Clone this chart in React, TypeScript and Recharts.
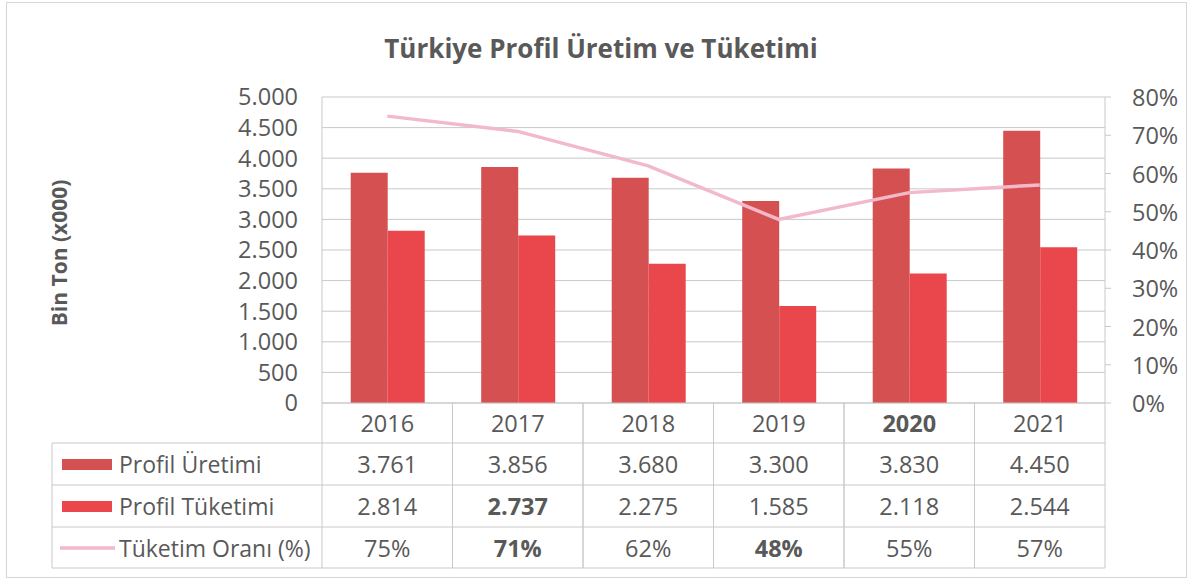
import React from 'react';
import { ComposedChart, Bar, Line, XAxis, YAxis, CartesianGrid } from 'recharts';

const years = ['2016', '2017', '2018', '2019', '2020', '2021'];
const uretim = [3761, 3856, 3680, 3300, 3830, 4450];
const tuketim = [2814, 2737, 2275, 1585, 2118, 2544];
const oran = [75, 71, 62, 48, 55, 57];
const leftTicks = [0, 500, 1000, 1500, 2000, 2500, 3000, 3500, 4000, 4500, 5000];
const rightTicks = [0, 10, 20, 30, 40, 50, 60, 70, 80];
const boldCells = ['2020', '2017-tuketim', '2017-oran', '2019-oran'];

const data = years.map((y, i) => ({ year: y, uretim: uretim[i], tuketim: tuketim[i], oran: oran[i] }));

const W = 1193;
const H = 581;
const PLOT_TOP = 97;
const PLOT_BOTTOM = 403;
const PLOT_LEFT = 322;
const PLOT_RIGHT = 1105;
const CELL_W = (PLOT_RIGHT - PLOT_LEFT) / years.length;
const ROW_LINES = [443, 485, 527, 568];
const ROW_TEXT = [423, 464, 506, 548];

const FONT = '"Open Sans", sans-serif';
const TEXT = '#595959';
const BORDER = '#c9c9c9';
const DARK = '#d55151';
const LIGHT = '#e9474b';
const PINK = '#f2b9cb';
const FS = 23.5;

const fmt = (n: number) =>
  n >= 1000 ? `${Math.floor(n / 1000)}.${String(n % 1000).padStart(3, '0')}` : String(n);

const TableTick = (props: any) => {
  const { x, payload } = props;
  const i = years.indexOf(payload.value);
  const yr = payload.value;
  const cells = [
    { text: yr, bold: boldCells.includes(yr) },
    { text: fmt(uretim[i]), bold: boldCells.includes(`${yr}-uretim`) },
    { text: fmt(tuketim[i]), bold: boldCells.includes(`${yr}-tuketim`) },
    { text: `${oran[i]}%`, bold: boldCells.includes(`${yr}-oran`) },
  ];
  const l = x - CELL_W / 2;
  const r = x + CELL_W / 2;
  return (
    <g>
      <line x1={r} x2={r} y1={PLOT_BOTTOM} y2={ROW_LINES[3]} stroke={BORDER} />
      <line x1={l} x2={l} y1={PLOT_BOTTOM} y2={ROW_LINES[3]} stroke={BORDER} />
      {ROW_LINES.map((ly) => (
        <line key={ly} x1={l} x2={r} y1={ly} y2={ly} stroke={BORDER} />
      ))}
      {cells.map((c, k) => (
        <text
          key={k}
          x={x}
          y={ROW_TEXT[k]}
          textAnchor="middle"
          dominantBaseline="central"
          fill={TEXT}
          fontSize={FS}
          fontWeight={c.bold ? 700 : 400}
          fontFamily={FONT}
        >
          {c.text}
        </text>
      ))}
    </g>
  );
};

const RightTick = (props: any) => {
  const { y, payload } = props;
  return (
    <text x={1132} y={y} dominantBaseline="central" fill={TEXT} fontSize={FS} fontFamily={FONT}>
      {`${payload.value}%`}
    </text>
  );
};

const legendRows = [
  { name: 'Profil Üretimi', color: DARK, kind: 'bar' },
  { name: 'Profil Tüketimi', color: LIGHT, kind: 'bar' },
  { name: 'Tüketim Oranı (%)', color: PINK, kind: 'line' },
];

const Overlay = () => (
  <svg width={W} height={H} style={{ position: 'absolute', left: 0, top: 0, pointerEvents: 'none' }}>
    <rect x={6.5} y={2.5} width={1180} height={575} fill="none" stroke="#d6d6d6" />
    <text x={601} y={48} textAnchor="middle" dominantBaseline="central" fill={TEXT} fontSize={26} fontWeight={700} fontFamily={FONT}>
      Türkiye Profil Üretim ve Tüketimi
    </text>
    <text
      x={59}
      y={253}
      textAnchor="middle"
      dominantBaseline="central"
      fill={TEXT}
      fontSize={21}
      fontWeight={700}
      fontFamily={FONT}
      transform="rotate(-90 59 253)"
    >
      Bin Ton (x000)
    </text>
    <line x1={52} x2={52} y1={ROW_LINES[0]} y2={ROW_LINES[3]} stroke={BORDER} />
    {ROW_LINES.map((ly) => (
      <line key={ly} x1={52} x2={PLOT_LEFT} y1={ly} y2={ly} stroke={BORDER} />
    ))}
    {legendRows.map((row, k) => {
      const cy = ROW_TEXT[k + 1];
      return (
        <g key={row.name}>
          {row.kind === 'bar' ? (
            <rect x={62} y={cy - 5} width={50} height={11} fill={row.color} />
          ) : (
            <line x1={60} x2={115} y1={cy} y2={cy} stroke={row.color} strokeWidth={3.5} />
          )}
          <text x={119} y={cy} dominantBaseline="central" fill={TEXT} fontSize={23} fontFamily={FONT}>
            {row.name}
          </text>
        </g>
      );
    })}
  </svg>
);

export default function App() {
  return (
    <div style={{ position: 'fixed', left: 0, top: 0, width: W, height: H, background: '#fff' }}>
      <ComposedChart
        width={W}
        height={H}
        data={data}
        margin={{ top: PLOT_TOP, right: 0, bottom: 0, left: 0 }}
        barCategoryGap="22%"
        barGap={0}
      >
        <CartesianGrid yAxisId="left" vertical={false} stroke={BORDER} />
        <XAxis
          dataKey="year"
          height={H - PLOT_BOTTOM}
          tick={<TableTick />}
          tickLine={false}
          axisLine={{ stroke: BORDER }}
          interval={0}
        />
        <YAxis
          yAxisId="left"
          width={PLOT_LEFT}
          domain={[0, 5000]}
          ticks={leftTicks}
          interval={0}
          tickFormatter={fmt}
          tickLine={false}
          tickSize={0}
          tickMargin={24}
          axisLine={{ stroke: BORDER }}
          tick={{ fill: TEXT, fontSize: FS, fontFamily: FONT }}
        />
        <YAxis
          yAxisId="right"
          orientation="right"
          width={W - PLOT_RIGHT}
          domain={[0, 80]}
          ticks={rightTicks}
          interval={0}
          tickSize={6}
          tickLine={{ stroke: BORDER }}
          axisLine={{ stroke: BORDER }}
          tick={<RightTick />}
        />
        <Bar yAxisId="left" dataKey="uretim" fill={DARK} isAnimationActive={false} />
        <Bar yAxisId="left" dataKey="tuketim" fill={LIGHT} isAnimationActive={false} />
        <Line
          yAxisId="right"
          type="linear"
          dataKey="oran"
          stroke={PINK}
          strokeWidth={3.5}
          dot={false}
          isAnimationActive={false}
        />
      </ComposedChart>
      <Overlay />
    </div>
  );
}
